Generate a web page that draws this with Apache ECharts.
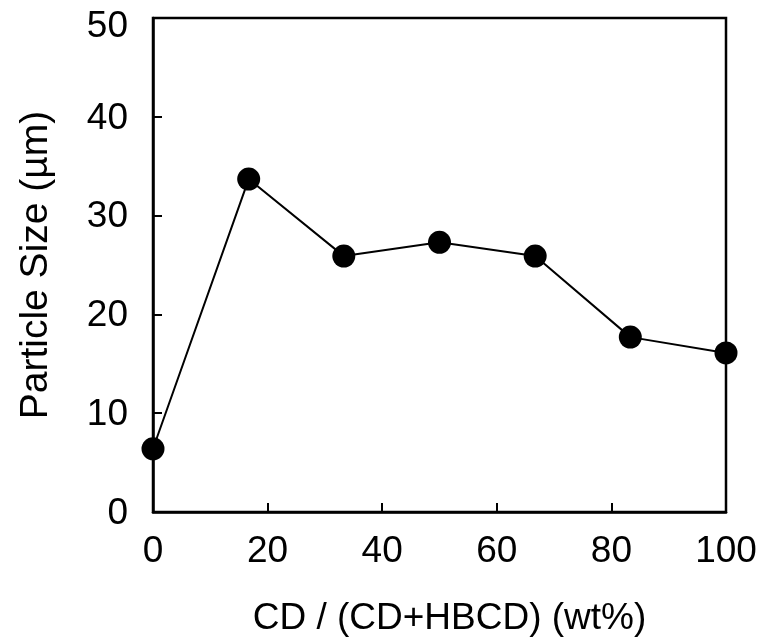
<!DOCTYPE html>
<html lang="en">
<head>
    <meta charset="utf-8" />
    <title>Particle Size</title>
    <script type="text/javascript" src="https://cdn.jsdelivr.net/npm/echarts@6/dist/echarts.min.js"></script>
    <style type="text/css">
        html, body { margin: 0; padding: 0; background: #fff; }
    </style>
</head>
<body>
    <div id="main" style="width:768px;height:641px;"></div>

    <script type="text/javascript">
        // CD fraction (wt%) and particle size (um)
        var cd_ratio = [0, 16.7, 33.3, 50, 66.7, 83.3, 100];
        var particle_size = [6.4, 33.7, 25.9, 27.3, 25.9, 17.7, 16.1];

        var xName = 'CD / (CD+HBCD) (wt%)';
        var yName = 'Particle Size (\u00b5m)';

        var points = [];
        for (var i = 0; i < cd_ratio.length; i++) {
            points.push([cd_ratio[i], particle_size[i]]);
        }

        var font = '"Liberation Sans", Arial, sans-serif';
        var myChart = echarts.init(document.getElementById('main'));

        var option = {
            animation: false,
            grid: {
                left: 153,
                right: 42,
                top: 18,
                bottom: 129,
                outerBoundsMode: 'none',
                show: true,
                borderColor: '#000',
                borderWidth: 2.5
            },
            xAxis: {
                type: 'value',
                min: 0,
                max: 100,
                interval: 20,
                name: xName,
                nameLocation: 'middle',
                nameGap: 88,
                nameTextStyle: {
                    fontFamily: font,
                    fontSize: 37,
                    color: '#000',
                    padding: [0, 0, 0, 20]
                },
                axisLine: { lineStyle: { color: '#000', width: 2.5 } },
                axisTick: { inside: true, length: 9, lineStyle: { color: '#000', width: 2 } },
                axisLabel: { fontFamily: font, fontSize: 37, color: '#000', margin: 21 },
                splitLine: { show: false }
            },
            yAxis: {
                type: 'value',
                min: 0,
                max: 50,
                interval: 10,
                name: yName,
                nameLocation: 'middle',
                nameGap: 97,
                nameTextStyle: {
                    fontFamily: font,
                    fontSize: 39,
                    color: '#000'
                },
                axisLine: { lineStyle: { color: '#000', width: 2.5 } },
                axisTick: { inside: true, length: 9, lineStyle: { color: '#000', width: 2 } },
                axisLabel: {
                    fontFamily: font,
                    fontSize: 37,
                    color: '#000',
                    margin: 25,
                    // top label sits a little lower than its tick
                    formatter: function (v) {
                        return v === 50 ? '{top|' + v + '}' : '{n|' + v + '}';
                    },
                    rich: {
                        top: { fontFamily: font, fontSize: 37, color: '#000', padding: [18, 0, 0, 0] },
                        n: { fontFamily: font, fontSize: 37, color: '#000', padding: [3, 0, 0, 0] }
                    }
                },
                splitLine: { show: false }
            },
            series: [{
                type: 'line',
                data: points,
                clip: false,
                symbol: 'circle',
                symbolSize: 23,
                itemStyle: { color: '#000' },
                lineStyle: { color: '#000', width: 2 }
            }]
        };
        myChart.setOption(option);
    </script>
</body>
</html>
